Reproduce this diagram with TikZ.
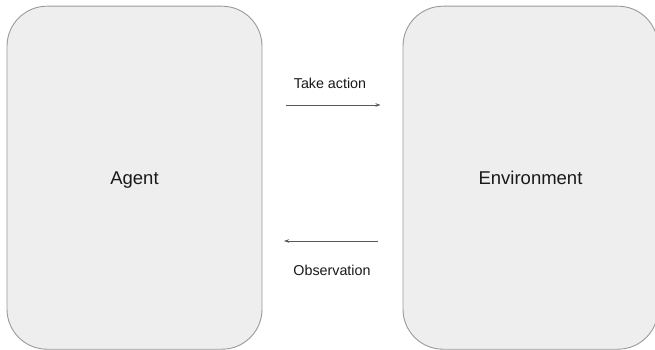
\documentclass[tikz,border=0pt]{standalone}
\usepackage{fontspec}
\setmainfont{Liberation Sans}
\usetikzlibrary{arrows.meta}
\definecolor{boxfill}{HTML}{EEEEEE}
\definecolor{boxline}{HTML}{9A9A9A}
\definecolor{arrowc}{HTML}{595959}
\begin{document}
\begin{tikzpicture}[x=1pt,y=-1pt,
  panel/.style={draw=boxline, fill=boxfill, line width=0.9pt, rounded corners=40pt,
    minimum width=255pt, minimum height=343pt, inner sep=0pt, anchor=center,
    text height=13.3pt, text depth=0pt,
    font=\fontsize{18.5}{22}\selectfont, text=black!90},
  lbl/.style={font=\fontsize{14.3}{17}\selectfont, text=black!90, inner sep=0pt, anchor=base},
  conn/.style={draw=arrowc, line width=0.7pt, -{Stealth[length=5pt,width=3.5pt]}}]
\useasboundingbox (0,0) rectangle (655,350);
\clip (0,0) rectangle (655,350);
\fill[white] (0,0) rectangle (655,350);
\node[panel] (agent) at (134.5,177.7) {Agent};
\node[panel] (env) at (530.5,177.7) {Environment};
\node[lbl] (take) at (330,89) {Take action};
\node[lbl] (obs) at (332,275.5) {Observation};
\coordinate (t1) at (286,105);
\coordinate (t2) at (380.5,105);
\coordinate (o1) at (377.5,241);
\coordinate (o2) at (284,241);
\draw[conn] (t1) -- (t2);
\draw[conn] (o1) -- (o2);
\end{tikzpicture}
\end{document}
